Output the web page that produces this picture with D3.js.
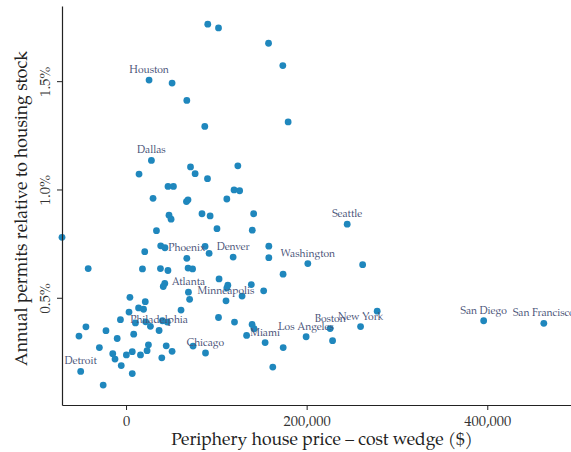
<!DOCTYPE html>
<html>
<head>
<meta charset="utf-8">
<script src="https://cdn.jsdelivr.net/npm/d3@7"></script>
<style>
  body { margin: 0; background: #fff; }
  svg text { font-family: "Palatino Linotype", "Book Antiqua", Palatino, "TeX Gyre Pagella", "P052", "Liberation Serif", serif; }
</style>
</head>
<body>
<div id="chart"></div>
<script>
// Periphery house price - cost wedge ($)
const wedge = [
  90500, 102400, 157800, 173600, 25500, 51000, 67300, 87200, 179500, 28100,
  14400, 71400, 76500, 90200, 123800, 46500, 52500, 119600, 125800, 29900,
  66900, 68600, 111600, 47600, 49900, 84100, 93100, 141300, 100700, 139800,
  33700, -70900, 38400, 43100, 87500, 92000, 158100, 158100, 118600, 67300,
  20700, 244900, 201300, 262000, 173900, -41900, 18200, 38100, 46400, 68700,
  73700, 42900, 41200, 103000, 112700, 111600, 138700, 152400, 128500, 69100,
  70400, 4300, 21300, 13900, 19400, 3300, 60900, 110700, -6200, 10400,
  21800, 40300, 45700, 27000, 102400, 120100, -44400, -22200, 36600, 8500,
  139600, 141700, 133500, -52100, -9800, -29500, 44500, 24800, 23300, 51000,
  74200, 88000, -14700, -12200, 400, 6900, 16000, 39600, -5300, -50200,
  6900, -25300, 154000, 174000, 162500, 199400, 226000, 228700, 259700, 278100,
  396000, 462600
];

// Annual permits relative to housing stock (%)
const permits = [
  1.763, 1.746, 1.675, 1.572, 1.505, 1.491, 1.411, 1.291, 1.312, 1.134,
  1.071, 1.104, 1.073, 1.050, 1.109, 1.014, 1.014, 0.998, 0.994, 0.959,
  0.944, 0.952, 0.956, 0.881, 0.863, 0.888, 0.878, 0.888, 0.819, 0.812,
  0.810, 0.779, 0.740, 0.731, 0.737, 0.705, 0.738, 0.685, 0.688, 0.682,
  0.713, 0.840, 0.658, 0.653, 0.609, 0.635, 0.633, 0.635, 0.626, 0.637,
  0.633, 0.566, 0.552, 0.587, 0.558, 0.545, 0.561, 0.532, 0.508, 0.526,
  0.493, 0.502, 0.482, 0.453, 0.447, 0.434, 0.443, 0.486, 0.399, 0.384,
  0.389, 0.394, 0.388, 0.368, 0.409, 0.388, 0.366, 0.348, 0.349, 0.332,
  0.377, 0.357, 0.326, 0.323, 0.312, 0.270, 0.278, 0.283, 0.256, 0.253,
  0.277, 0.245, 0.242, 0.217, 0.236, 0.251, 0.236, 0.223, 0.187, 0.160,
  0.150, 0.097, 0.293, 0.270, 0.180, 0.320, 0.358, 0.302, 0.367, 0.438,
  0.394, 0.382
];

// Labelled metros, by index into the arrays above
const cityNames = ["Houston", "Dallas", "Seattle", "Phoenix", "Denver", "Washington",
  "Atlanta", "Minneapolis", "Philadelphia", "Chicago", "Miami", "Detroit",
  "Los Angeles", "Boston", "New York", "San Diego", "San Francisco"];
const cityIndex = [4, 9, 41, 39, 38, 42, 59, 67, 78, 91, 102, 99, 105, 106, 108, 110, 111];

const xTicks = [0, 200000, 400000];
const yTicks = [0.5, 1.0, 1.5];

const W = 571, H = 452;
const margin = { top: 6, right: 0, bottom: 47, left: 62 };
const serif = '"Palatino Linotype", "Book Antiqua", Palatino, "TeX Gyre Pagella", "P052", "Liberation Serif", serif';

const svg = d3.select('#chart').append('svg')
  .attr('width', W)
  .attr('height', H);

const x = d3.scaleLinear()
  .domain([-70900, 492700])
  .range([margin.left, W - margin.right]);

const y = d3.scaleLinear()
  .domain([0.005, 1.847])
  .range([H - margin.bottom, margin.top]);

// Points
svg.append('g')
  .selectAll('circle')
  .data(wedge)
  .enter().append('circle')
  .attr('cx', (d) => x(d))
  .attr('cy', (d, i) => y(permits[i]))
  .attr('r', 3.4)
  .attr('fill', '#1f87bd');

// City labels, centred above their point
svg.append('g')
  .selectAll('text')
  .data(cityNames)
  .enter().append('text')
  .attr('x', (d, i) => x(wedge[cityIndex[i]]))
  .attr('y', (d, i) => y(permits[cityIndex[i]]) - 7)
  .attr('text-anchor', 'middle')
  .attr('font-size', 10.3)
  .attr('fill', '#4a5378')
  .text((d) => d);

// Axes
const xAxis = svg.append('g')
  .attr('transform', `translate(0,${H - margin.bottom})`)
  .call(d3.axisBottom(x).tickValues(xTicks).tickFormat(d3.format(',')).tickSize(5).tickSizeOuter(0));

const yAxis = svg.append('g')
  .attr('transform', `translate(${margin.left},0)`)
  .call(d3.axisLeft(y).tickValues(yTicks).tickFormat((d) => d.toFixed(1) + '%').tickSize(5).tickSizeOuter(0));

[xAxis, yAxis].forEach((g) => {
  g.select('.domain').attr('stroke', '#222').attr('stroke-width', 1.2);
  g.selectAll('.tick line').attr('stroke', '#222');
  g.selectAll('.tick text')
    .attr('font-size', 14.5)
    .attr('fill', '#333')
    .style('font-family', serif);
});

xAxis.selectAll('.tick text').attr('dy', '0.9em');

// Rotated y tick labels
yAxis.selectAll('.tick text')
  .attr('text-anchor', 'middle')
  .attr('x', 0)
  .attr('dy', 0)
  .attr('transform', 'translate(-12,0) rotate(-90)');

// Axis titles
svg.append('text')
  .attr('x', 322)
  .attr('y', 445)
  .attr('text-anchor', 'middle')
  .attr('font-size', 17.5)
  .attr('fill', '#222')
  .text('Periphery house price \u2013 cost wedge ($)');

svg.append('text')
  .attr('transform', `translate(27,${(margin.top + H - margin.bottom) / 2 + 3}) rotate(-90)`)
  .attr('text-anchor', 'middle')
  .attr('font-size', 17.5)
  .attr('fill', '#222')
  .text('Annual permits relative to housing stock');
</script>
</body>
</html>
